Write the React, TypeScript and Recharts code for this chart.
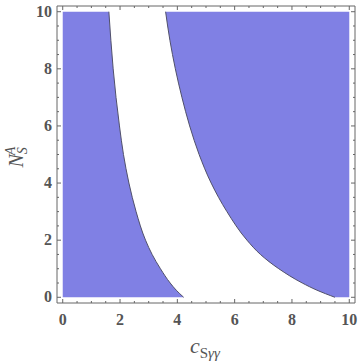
import { Area, ComposedChart, Label, Line, XAxis, YAxis } from 'recharts'

// N_S^A levels and the c_Sγγ value of each boundary at that level
const levels = [0, 0.25, 0.5, 1, 1.5, 2, 3, 4, 5, 6, 7, 8, 9, 10]
const leftEdge = [4.22, 3.96, 3.75, 3.41, 3.12, 2.89, 2.56, 2.31, 2.12, 1.98, 1.86, 1.76, 1.68, 1.61]
const rightEdge = [9.5, 8.87, 8.36, 7.54, 6.9, 6.43, 5.73, 5.18, 4.76, 4.43, 4.16, 3.93, 3.74, 3.59]

const tickValues = [0, 0.5, 1, 1.5, 2, 2.5, 3, 3.5, 4, 4.5, 5, 5.5, 6, 6.5, 7, 7.5, 8, 8.5, 9, 9.5, 10]
const labelledTicks = [0, 2, 4, 6, 8, 10]
const rangeMax = 10

const rows = levels.map((n, i) => ({ n, left: leftEdge[i], right: rightEdge[i] }))

const FILL = '#8080e4'
const EDGE = '#50506a'
const FRAME = '#666'
const TEXT = '#555'
const domain: [number, number] = [-0.2, 10.2]

type Side = 'bottom' | 'top' | 'left' | 'right'

function FrameTick(props: any) {
  const { x, y, payload, side } = props as { x: number; y: number; payload: { value: number }; side: Side }
  const v = payload.value
  const major = labelledTicks.includes(v)
  const len = major ? 4 : 2
  let line
  if (side === 'bottom') line = <line x1={x} x2={x} y1={y} y2={y - len} stroke={FRAME} />
  else if (side === 'top') line = <line x1={x} x2={x} y1={y} y2={y + len} stroke={FRAME} />
  else if (side === 'left') line = <line x1={x} x2={x + len} y1={y} y2={y} stroke={FRAME} />
  else line = <line x1={x} x2={x - len} y1={y} y2={y} stroke={FRAME} />

  const textStyle = { fontFamily: 'Liberation Serif', fontWeight: 700, fontSize: 16, fill: TEXT }
  let text = null
  if (major && side === 'bottom')
    text = (
      <text x={x} y={y + 22} textAnchor="middle" style={textStyle}>
        {v}
      </text>
    )
  if (major && side === 'left')
    text = (
      <text x={x - 5} y={y + 5} textAnchor="end" style={textStyle}>
        {v}
      </text>
    )
  return (
    <g>
      {line}
      {text}
    </g>
  )
}

function XTitle(props: any) {
  const vb = props.viewBox
  const cx = vb.x + vb.width / 2 - 16
  return (
    <text x={cx} y={vb.y + 50} fill={TEXT} style={{ fontFamily: 'Liberation Serif' }}>
      <tspan fontStyle="italic" fontSize={22}>c</tspan>
      <tspan fontSize={15} dy={5}>S</tspan>
      <tspan fontSize={15} fontStyle="italic">γγ</tspan>
    </text>
  )
}

function YTitle(props: any) {
  const vb = props.viewBox
  const cx = 23
  const cy = vb.y + vb.height / 2 + 13
  return (
    <text x={cx} y={cy} fill={TEXT} transform={`rotate(-90, ${cx}, ${cy})`} style={{ fontFamily: 'Liberation Serif' }}>
      <tspan fontStyle="italic" fontSize={20}>N</tspan>
      <tspan fontStyle="italic" fontSize={14} dy={4}>S</tspan>
      <tspan fontStyle="italic" fontSize={14} dx={-8} dy={-12}>A</tspan>
    </text>
  )
}

export default function App() {
  return (
    <div style={{ position: 'absolute', left: 0, top: 0, width: 360, height: 364, background: '#fff' }}>
      <ComposedChart data={rows} height={364} layout="vertical" margin={{ top: 0, right: 0, bottom: 0, left: 0 }} width={360}>
        <XAxis
          allowDataOverflow
          axisLine={{ stroke: FRAME }}
          domain={domain}
          height={61}
          interval={0}
          tick={(p: any) => <FrameTick {...p} side="bottom" />}
          tickLine={false}
          tickMargin={0}
          tickSize={0}
          ticks={tickValues}
          type="number"
        >
          <Label content={XTitle} />
        </XAxis>
        <XAxis
          allowDataOverflow
          axisLine={{ stroke: FRAME }}
          domain={domain}
          height={6}
          interval={0}
          orientation="top"
          tick={(p: any) => <FrameTick {...p} side="top" />}
          tickLine={false}
          tickMargin={0}
          tickSize={0}
          ticks={tickValues}
          type="number"
          xAxisId="t"
        />
        <YAxis
          allowDataOverflow
          axisLine={{ stroke: FRAME }}
          dataKey="n"
          domain={domain}
          interval={0}
          reversed
          tick={(p: any) => <FrameTick {...p} side="left" />}
          tickLine={false}
          tickMargin={0}
          tickSize={0}
          ticks={tickValues}
          type="number"
          width={57}
        >
          <Label content={YTitle} />
        </YAxis>
        <YAxis
          allowDataOverflow
          axisLine={{ stroke: FRAME }}
          dataKey="n"
          domain={domain}
          interval={0}
          orientation="right"
          reversed
          tick={(p: any) => <FrameTick {...p} side="right" />}
          tickLine={false}
          tickMargin={0}
          tickSize={0}
          ticks={tickValues}
          type="number"
          width={5}
          yAxisId="r"
        />
        <Area dataKey="left" fill={FILL} fillOpacity={1} isAnimationActive={false} stroke="none" type="monotone" />
        <Area
          dataKey={(d: { right: number }) => [d.right, rangeMax]}
          fill={FILL}
          fillOpacity={1}
          isAnimationActive={false}
          stroke="none"
          type="monotone"
        />
        <Line dataKey="left" dot={false} isAnimationActive={false} stroke={EDGE} strokeWidth={1} type="monotone" />
        <Line dataKey="right" dot={false} isAnimationActive={false} stroke={EDGE} strokeWidth={1} type="monotone" />
      </ComposedChart>
    </div>
  )
}
